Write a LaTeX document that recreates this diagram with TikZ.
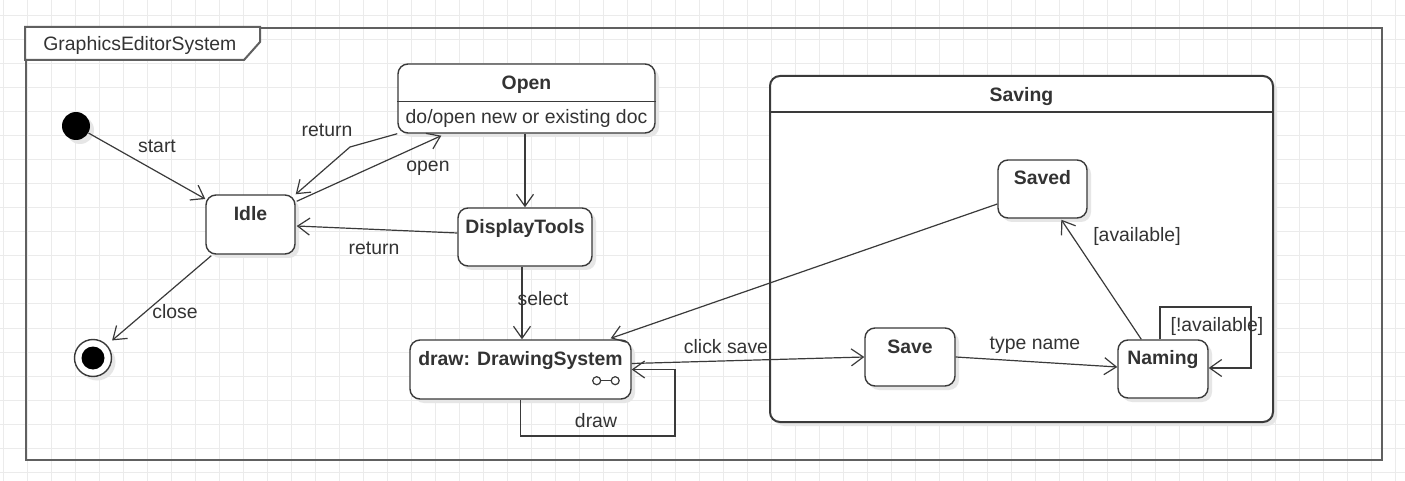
\documentclass[tikz,border=0pt]{standalone}
\usepackage{fontspec}
\setmainfont{Liberation Sans}
\usetikzlibrary{arrows.meta,calc,shadows}
\definecolor{ln}{HTML}{3A3A3A}
\definecolor{txt}{HTML}{333333}
\definecolor{frm}{HTML}{606060}
\definecolor{gridc}{HTML}{EBEBEB}
\definecolor{shd}{HTML}{E6E6E6}
\begin{document}
\begin{tikzpicture}[x=0.5pt,y=-0.5pt,font=\fontsize{9.7}{11}\selectfont,
  state/.style={draw=ln, line width=0.7pt, fill=white, rounded corners=5pt, inner sep=0pt,
    general shadow={fill=shd, shadow xshift=2pt, shadow yshift=-2pt}},
  sname/.style={anchor=base, yshift=-13pt, font=\fontsize{9.7}{11}\selectfont\bfseries, inner sep=0pt, text=txt},
  tr/.style={draw=ln, line width=0.6pt, -{Straight Barb[length=6pt,width=8.5pt,line width=0.6pt]}},
  lbl/.style={anchor=base, inner sep=0pt, text=txt}]
\useasboundingbox (0,0) rectangle (1405,481);
\fill[white] (0,0) rectangle (1405,481);
% grid
\foreach \x in {3,27,...,1405} \draw[gridc, line width=0.5pt] (\x,0) -- (\x,481);
\foreach \y in {16,40,...,481} \draw[gridc, line width=0.5pt] (0,\y) -- (1405,\y);

% frame
\node[draw=frm, line width=1pt, minimum width=678pt, minimum height=216pt, inner sep=0pt] (frame) at (704,244) {};
\draw[frm, line width=1pt, fill=white] (frame.north west) -- ($(frame.north west)+(235,0)$) -- ($(frame.north west)+(235,15)$) -- ($(frame.north west)+(219,33)$) -- ($(frame.north west)+(0,33)$) -- cycle;
\node[lbl, anchor=base west] (ftitle) at (43,51) {GraphicsEditorSystem};

% Saving composite
\node[state, line width=1pt, minimum width=251.5pt, minimum height=173pt, label={[sname, yshift=-0.5pt]north:Saving}] (saving) at (1021.5,249) {};
\draw[ln, line width=0.9pt] ($(saving.north west)+(0,37)$) -- ($(saving.north east)+(0,37)$);

% initial / final
\node[circle, fill=black, minimum size=14pt, inner sep=0pt, general shadow={fill=shd, shadow xshift=2pt, shadow yshift=-2pt}] (init) at (76,126) {};
\node[circle, draw=ln, line width=0.7pt, fill=white, minimum size=18.5pt, inner sep=0pt, general shadow={fill=shd, shadow xshift=2pt, shadow yshift=-2pt}] (final) at (93,358) {};
\node[circle, fill=black, minimum size=11.5pt, inner sep=0pt] (finaldot) at (final) {};

% states
\node[state, minimum width=44.5pt, minimum height=29.5pt, label={[sname]north:Idle}] (idle) at (250.5,224.5) {};
\node[state, minimum width=128.5pt, minimum height=34.5pt, label={[sname]north:Open}] (open) at (526.5,98.5) {};
\draw[ln, line width=0.7pt] ($(open.north west)+(0,38)$) -- ($(open.north east)+(0,38)$);
\node[lbl] (opendo) at (526.5,124) {do/open new or existing doc};
\node[state, minimum width=67pt, minimum height=29pt, label={[sname]north:DisplayTools}] (disp) at (525,237) {};
\node[state, minimum width=110.5pt, minimum height=29.5pt, label={[sname]north:draw: DrawingSystem}] (dsys) at (520.5,369.5) {};
\draw[ln, line width=0.6pt] ($(dsys.south east)+(-35,-19)$) circle[radius=2pt] ($(dsys.south east)+(-16.5,-19)$) circle[radius=2pt];
\draw[ln, line width=0.6pt] ($(dsys.south east)+(-31,-19)$) -- ($(dsys.south east)+(-20.5,-19)$);
\node[state, minimum width=44.5pt, minimum height=29pt, label={[sname, yshift=0.5pt]north:Saved}] (saved) at (1042.5,189) {};
\node[state, minimum width=45pt, minimum height=29pt, label={[sname]north:Save}] (save) at (910,357) {};
\node[state, minimum width=45pt, minimum height=29pt, label={[sname, yshift=0.5pt]north:Naming}] (naming) at (1163,369) {};

% transitions
\draw[tr] (init) -- (idle);
\node[lbl] (lstart) at (157,153) {start};

\draw[tr] (open.south west) -- (350,147) -- (idle.north east);
\node[lbl] (lret1) at (327,137) {return};

\draw[tr] ($(idle.north east)+(1,7)$) -- ($(open.south west)+(44,2)$);
\node[lbl] (lopen) at (428,172) {open};

\draw[tr] ($(disp.west)+(0,-4)$) -- ($(idle.east)+(1,1.5)$);
\node[lbl] (lret2) at (374,255) {return};

\draw[tr] ($(idle.south west)+(6,1)$) -- ($(final)!13pt!(idle.south west)$);
\node[lbl] (lclose) at (175,319) {close};

\draw[tr] (open.south -| disp.north) -- (disp.north);

\coordinate (selA) at ($(disp.south)+(-3,0)$);
\draw[tr] (selA) -- (selA |- dsys.north);
\node[lbl] (lselect) at (543,306) {select};

\draw[tr, line width=0.9pt] (dsys.south) -- ++(0,36) -| ($(dsys.east)+(43,0)$) -- (dsys.east);
\node[lbl] (ldraw) at (596,427) {draw};

\draw[tr] ($(dsys.east)+(0,-6)$) -- (save.west);
\node[lbl] (lclick) at (726,353) {click save};

\draw[tr] ($(saved.west)+(0,15)$) -- ($(dsys.north east)+(-21,-1)$);

\draw[tr] (save.east) -- ($(naming.west)+(0,-2)$);
\node[lbl] (ltype) at (1035,350) {type name};

\draw[tr] ($(naming.north west)+(24,0)$) -- ($(saved.south west)+(64,1)$);
\node[lbl] (lavail) at (1137,242) {[available]};

\draw[tr, line width=0.9pt] ($(naming.north west)+(43,0)$) -- ++(0,-32) -| ($(naming.east)+(42,-1)$) -- ($(naming.east)+(0,-1)$);
\node[lbl] (lnavail) at (1217,331) {[!available]};
\end{tikzpicture}
\end{document}
